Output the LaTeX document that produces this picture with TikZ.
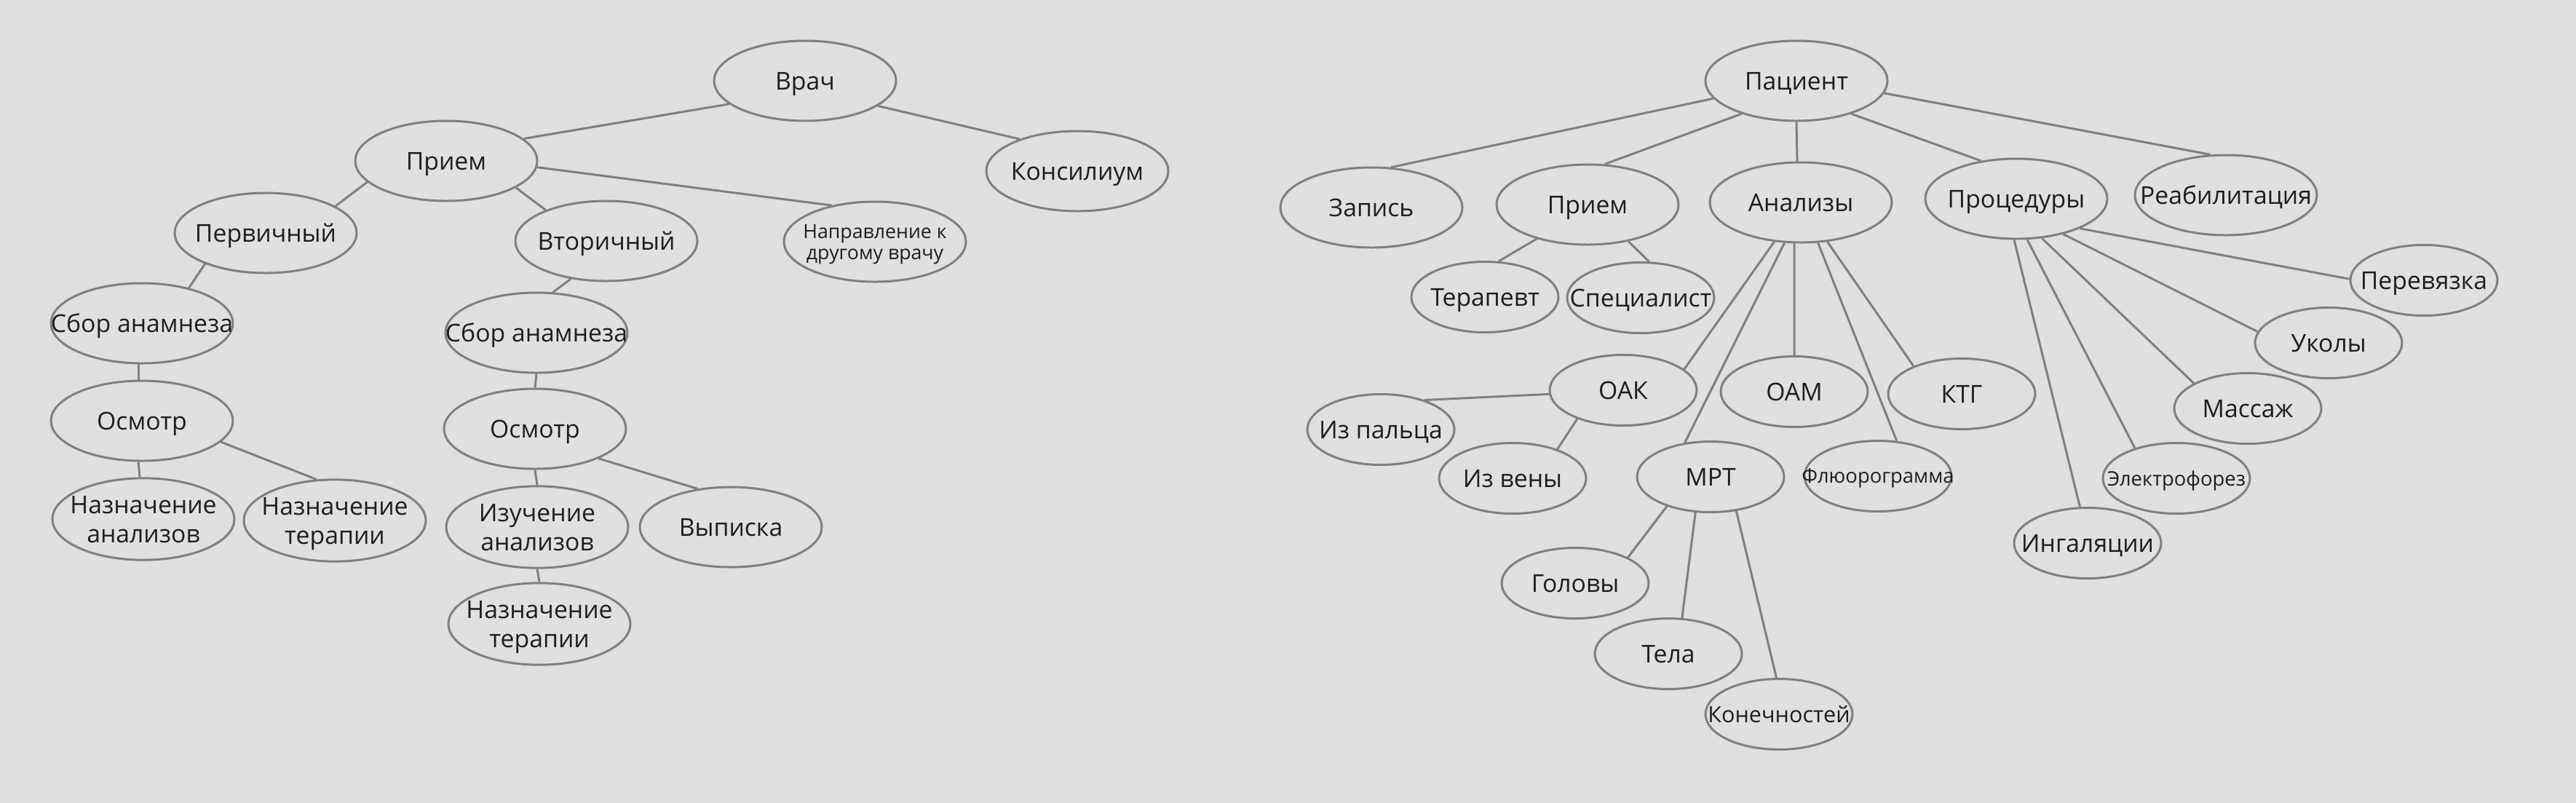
\documentclass[tikz,border=0pt]{standalone}
\usepackage{fontspec}
\setmainfont{Open Sans}
\usepackage{xcolor}
\usepackage{tikz}
\usetikzlibrary{shapes.geometric}
\definecolor{bggray}{RGB}{224,224,224}
\definecolor{linegray}{RGB}{128,128,128}
\definecolor{textdark}{RGB}{30,30,30}
\newcommand{\lbl}[1]{\makebox[0pt]{\raisebox{0pt}[\dimexpr\height+1.2pt][\dimexpr\depth-1.2pt]{\begin{tabular}{@{}c@{}}#1\end{tabular}}}}

\begin{document}
\begin{tikzpicture}[
    big/.style={ellipse, draw=linegray, line width=0.85pt, minimum width=2.5cm,
                minimum height=1.1cm, inner sep=0pt, text=textdark,
                font=\fontsize{9.6}{11.3}\selectfont},
    small/.style={big, minimum width=2.02cm, minimum height=0.97cm},
    tiny/.style={font=\fontsize{7.8}{8.2}\selectfont},
    link/.style={draw=linegray, line width=0.85pt}
]
\useasboundingbox (0,0) rectangle (35.39,-11.02);
\fill[bggray] (-0.1,0.1) rectangle (35.49,-11.12);

\node[big] (vrach) at (11.06,-1.11) {\lbl{Врач}};
\node[big] (priem) at (6.13,-2.21) {\lbl{Прием}};
\node[big] (konsil) at (14.80,-2.35) {\lbl{Консилиум}};
\node[big] (perv) at (3.65,-3.20) {\lbl{Первичный}};
\node[big] (vtor) at (8.33,-3.31) {\lbl{Вторичный}};
\node[big, font=\fontsize{7.6}{8.2}\selectfont] (naprav) at (12.02,-3.32) {\lbl{Направление к\\другому врачу}};
\node[big] (sborA) at (1.95,-4.44) {\lbl{Сбор анамнеза}};
\node[big] (sborB) at (7.37,-4.57) {\lbl{Сбор анамнеза}};
\node[big] (osmA) at (1.95,-5.78) {\lbl{Осмотр}};
\node[big] (osmB) at (7.35,-5.89) {\lbl{Осмотр}};
\node[big] (naznAn) at (1.97,-7.13) {\lbl{Назначение\\анализов}};
\node[big] (naznTerA) at (4.60,-7.15) {\lbl{Назначение\\терапии}};
\node[big] (izuch) at (7.38,-7.24) {\lbl{Изучение\\анализов}};
\node[big] (vypis) at (10.04,-7.24) {\lbl{Выписка}};
\node[big] (naznTerB) at (7.41,-8.57) {\lbl{Назначение\\терапии}};

\draw[link] (vrach.197) -- (priem.16);
\draw[link] (vrach.341) -- (konsil.151);
\draw[link] (priem.195) -- (perv.21);
\draw[link] (priem.339) -- (vtor.153);
\draw[link] (priem.356) -- (naprav.140);
\draw[link] (perv.207) -- (sborA.37);
\draw[link] (vtor.227) -- (sborB.68);
\draw[link] (sborA.265) -- (osmA.95);
\draw[link] (sborB.270) -- (osmB.90);
\draw[link] (osmA.265) -- (naznAn.95);
\draw[link] (osmA.345) -- (naznTerA.114);
\draw[link] (osmB.270) -- (izuch.90);
\draw[link] (osmB.335) -- (vypis.131);
\draw[link] (izuch.270) -- (naznTerB.90);

\node[big] (pac) at (24.68,-1.11) {\lbl{Пациент}};
\node[big] (zap) at (18.84,-2.85) {\lbl{Запись}};
\node[big] (priemR) at (21.81,-2.81) {\lbl{Прием}};
\node[big] (anal) at (24.74,-2.78) {\lbl{Анализы}};
\node[big] (proc) at (27.70,-2.73) {\lbl{Процедуры}};
\node[big] (reab) at (30.58,-2.68) {\lbl{Реабилитация}};
\node[small] (terap) at (20.40,-4.08) {\lbl{Терапевт}};
\node[small] (spec) at (22.54,-4.09) {\lbl{Специалист}};
\node[small] (perev) at (33.30,-3.85) {\lbl{Перевязка}};
\node[small] (ukol) at (31.99,-4.71) {\lbl{Уколы}};
\node[small] (oak) at (22.30,-5.36) {\lbl{ОАК}};
\node[small] (oam) at (24.65,-5.38) {\lbl{ОАМ}};
\node[small] (ktg) at (26.95,-5.41) {\lbl{КТГ}};
\node[small] (palec) at (18.97,-5.90) {\lbl{Из пальца}};
\node[small] (massazh) at (30.88,-5.61) {\lbl{Массаж}};
\node[small] (vena) at (20.78,-6.57) {\lbl{Из вены}};
\node[small] (mrt) at (23.50,-6.55) {\lbl{МРТ}};
\node[small, tiny] (flyuo) at (25.80,-6.54) {\lbl{Флюорограмма}};
\node[small, tiny] (elektro) at (29.90,-6.57) {\lbl{Электрофорез}};
\node[small] (ingal) at (28.68,-7.46) {\lbl{Ингаляции}};
\node[small] (golova) at (21.64,-8.01) {\lbl{Головы}};
\node[small] (telo) at (22.92,-8.98) {\lbl{Тела}};
\node[small, font=\fontsize{8.7}{10}\selectfont] (konech) at (24.44,-9.81) {\lbl{Конечностей}};

\draw[link] (pac.192) -- (zap.64);
\draw[link] (pac.211) -- (priemR.67);
\draw[link] (pac.270) -- (anal.95);
\draw[link] (pac.329) -- (proc.133);
\draw[link] (pac.352) -- (reab.111);
\draw[link] (priemR.214) -- (terap.69);
\draw[link] (priemR.318) -- (spec.77);
\draw[link] (anal.236) -- (oak.19);
\draw[link] (anal.248) -- (mrt.127);
\draw[link] (anal.261) -- (oam.90);
\draw[link] (anal.293) -- (flyuo.62);
\draw[link] (anal.304) -- (ktg.150);
\draw[link] (oak.183) -- (palec.34);
\draw[link] (oak.212) -- (vena.33);
\draw[link] (mrt.214) -- (golova.26);
\draw[link] (mrt.247) -- (telo.69);
\draw[link] (mrt.307) -- (konech.94);
\draw[link] (proc.335) -- (perev.179);
\draw[link] (proc.323) -- (ukol.171);
\draw[link] (proc.303) -- (massazh.155);
\draw[link] (proc.285) -- (elektro.144);
\draw[link] (proc.267) -- (ingal.102);
\end{tikzpicture}
\end{document}
